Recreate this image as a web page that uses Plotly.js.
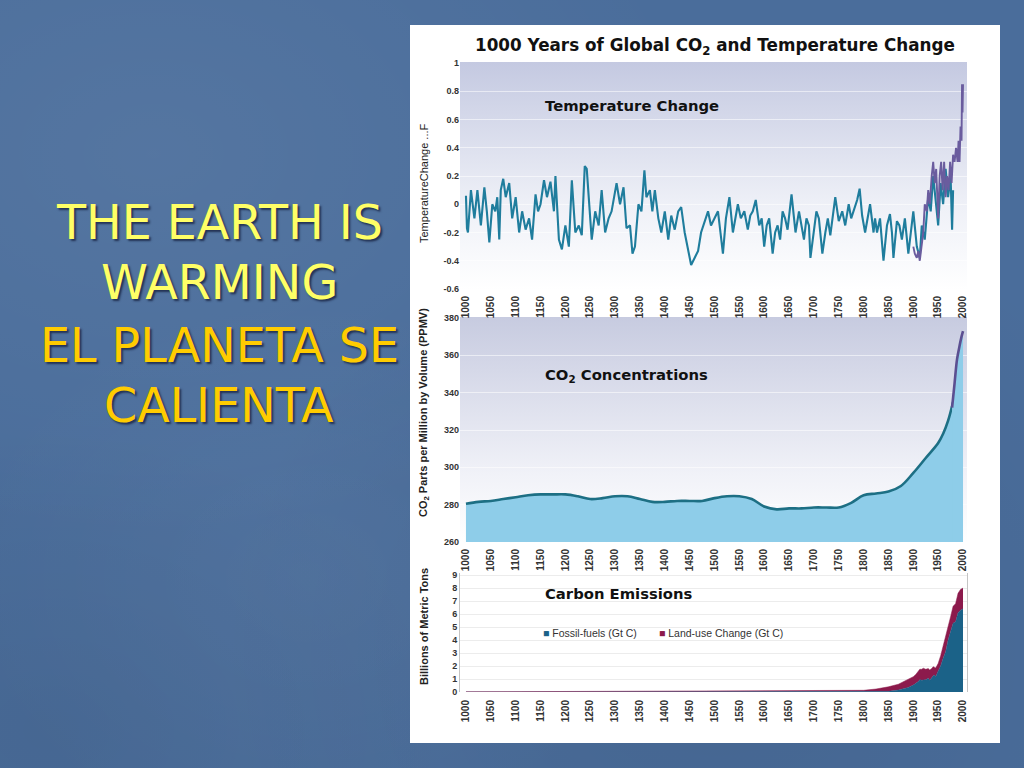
<!DOCTYPE html>
<html>
<head>
<meta charset="utf-8">
<script src="https://cdn.plot.ly/plotly-3.0.1.min.js"></script>
<style>
  html, body { margin: 0; padding: 0; }
  body {
    width: 1024px; height: 768px; overflow: hidden;
    background-color: #4a6d9b;
    background-image:
      radial-gradient(ellipse at 15% 20%, rgba(255,255,255,0.06), rgba(255,255,255,0) 45%),
      radial-gradient(ellipse at 30% 75%, rgba(255,255,255,0.04), rgba(255,255,255,0) 35%),
      radial-gradient(ellipse at 70% 85%, rgba(0,0,0,0.07), rgba(0,0,0,0) 50%),
      radial-gradient(ellipse at 5% 95%, rgba(0,0,0,0.06), rgba(0,0,0,0) 30%);
  }
  #chart { width: 1024px; height: 768px; }
</style>
</head>
<body>
<div id="chart"></div>
<script>
// ---------------- DATA ----------------
var tickYears = [1000,1050,1100,1150,1200,1250,1300,1350,1400,1450,1500,1550,1600,1650,1700,1750,1800,1850,1900,1950,2000];

// Temperature reconstruction (teal), deg F change
var tempYears = [1000,1002,1004,1010,1017,1023,1030,1037,1042,1047,1053,1059,1063,1067,1070,1075,1080,1087,1093,1100,
  1107,1113,1120,1127,1133,1140,1145,1150,1157,1163,1170,1177,1180,1187,1193,1200,1207,1213,1220,1227,
  1233,1239,1243,1250,1253,1260,1267,1273,1280,1287,1293,1303,1310,1317,1323,1330,1335,1340,1347,1353,
  1359,1363,1370,1375,1380,1387,1393,1400,1407,1413,1420,1427,1433,1440,1447,1453,1460,1467,1473,1480,
  1487,1493,1500,1507,1512,1517,1523,1530,1537,1542,1547,1553,1560,1567,1572,1577,1583,1590,1595,1600,
  1605,1610,1617,1622,1627,1632,1637,1642,1647,1655,1660,1663,1670,1675,1680,1685,1690,1693,1700,1705,
  1710,1717,1723,1728,1733,1738,1743,1750,1757,1763,1770,1775,1780,1787,1792,1797,1803,1808,1813,1820,
  1823,1827,1833,1840,1847,1853,1857,1860,1867,1872,1877,1883,1890,1895,1900,1907,1913,1917,1923,1930,
  1935,1940,1945,1950,1955,1960,1965,1970,1975,1978,1980];
var tempValues = [0.06,-0.17,-0.2,0.1,-0.1,0.1,-0.15,0.12,-0.05,-0.27,0.0,-0.05,0.05,-0.25,0.1,0.18,0.05,0.15,-0.1,0.05,
  -0.2,-0.05,-0.18,-0.1,-0.25,0.07,-0.05,0.0,0.17,0.05,0.16,-0.05,0.2,-0.25,-0.32,-0.15,-0.3,0.17,-0.2,-0.15,
  -0.22,0.27,0.25,-0.1,-0.25,-0.05,-0.15,0.1,-0.2,-0.1,-0.05,0.15,0.0,0.12,-0.17,-0.15,-0.35,-0.3,0.0,-0.05,
  0.24,0.05,0.1,-0.05,0.1,-0.1,-0.2,-0.05,-0.25,-0.08,-0.18,-0.05,-0.02,-0.2,-0.33,-0.43,-0.38,-0.33,-0.2,-0.12,
  -0.05,-0.15,-0.1,-0.05,-0.2,-0.35,-0.1,0.05,-0.2,-0.1,0.0,-0.1,-0.05,-0.18,-0.08,-0.05,0.03,-0.15,-0.1,-0.3,
  -0.15,-0.1,-0.35,-0.2,-0.15,-0.25,-0.05,-0.1,-0.18,0.07,-0.1,-0.2,-0.05,-0.15,-0.25,-0.1,-0.15,-0.38,-0.2,-0.05,
  -0.1,-0.35,-0.2,-0.1,-0.22,-0.08,0.05,-0.12,-0.05,-0.15,0.0,-0.1,-0.05,0.03,0.11,-0.08,-0.2,-0.1,0.0,-0.2,
  -0.1,-0.2,-0.1,-0.4,-0.15,-0.07,-0.2,-0.38,-0.12,-0.15,-0.25,-0.1,-0.35,-0.2,-0.05,-0.3,-0.38,-0.15,-0.25,0.05,
  -0.05,0.2,0.0,-0.15,0.15,0.0,0.25,0.05,0.2,-0.18,0.1];

// Instrumental record (purple)
var instYears = [1900,1903,1907,1910,1913,1917,1920,1923,1927,1930,1933,1937,1940,1943,1946,1950,1953,1956,1959,1962,
  1965,1968,1971,1974,1977,1980,1983,1986,1989,1991,1993,1995,1997,1998,1999,2000];
var instValues = [-0.3,-0.35,-0.38,-0.33,-0.4,-0.3,-0.2,0.0,-0.05,0.1,0.0,0.2,0.3,0.15,0.25,-0.1,0.2,0.3,0.1,0.3,
  0.05,0.2,0.1,0.3,0.15,0.35,0.3,0.4,0.3,0.45,0.3,0.55,0.45,0.85,0.65,0.85];

// CO2 concentrations, ppmv (ice core, teal) and direct measurements (purple)
var co2Years = [1000,1025,1050,1075,1100,1125,1150,1175,1200,1225,1250,1275,1300,1325,1350,1375,1400,1425,1450,1475,
  1500,1525,1550,1575,1600,1625,1650,1675,1700,1725,1750,1775,1800,1825,1850,1875,1900,1925,1950,1960,1970,1980];
var co2Values = [280.5,281.5,282,283,284,285,285.5,285.5,285.5,284.5,283,283.5,284.5,284.5,283,281.5,281.5,282,282,282,
  283.5,284.5,284.5,283,279,277.5,278,278,278.5,278.5,278.5,281,285,286,287,290,297,305,313,318,325,335];
var co2DirectYears = [1978,1983,1988,1993,1997,2000];
var co2DirectValues = [332,345,358,365,370,373];

// Carbon emissions, Gt C
var emisYears = [1000,1100,1200,1300,1400,1500,1600,1700,1750,1800,1825,1850,1870,1880,1890,1900,1905,1910,1913,1917,
  1920,1925,1930,1933,1937,1940,1943,1945,1948,1950,1955,1960,1965,1970,1975,1980,1985,1990,1995,2000];
var fossilValues = [0,0,0,0,0,0,0,0,0.003,0.01,0.03,0.05,0.15,0.25,0.35,0.53,0.65,0.8,0.95,0.9,
  0.93,0.95,1.05,0.9,1.1,1.25,1.3,1.15,1.45,1.6,2.0,2.6,3.1,4.0,4.6,5.3,5.4,6.1,6.3,6.4];
var landUseValues = [0.01,0.02,0.03,0.04,0.05,0.06,0.07,0.08,0.09,0.12,0.2,0.35,0.45,0.55,0.6,0.65,0.7,0.75,0.8,0.85,
  0.9,0.8,0.75,0.8,0.7,0.7,0.6,0.7,0.6,0.6,0.8,0.9,1.1,1.1,1.2,1.3,1.4,1.5,1.6,1.6];

var tempTicks = [-0.6,-0.4,-0.2,0,0.2,0.4,0.6,0.8,1];
var tempTickText = ['-0.6','-0.4','-0.2','0','0.2','0.4','0.6','0.8','1'];
var co2Ticks = [260,280,300,320,340,360,380];
var emisTicks = [0,1,2,3,4,5,6,7,8,9];

// ---------------- HELPERS ----------------
var W = 1024, H = 768;
function px(x) { return x / W; }
function py(y) { return 1 - y / H; }

function svgData(svg) { return 'data:image/svg+xml;charset=utf-8,' + encodeURIComponent(svg); }
var panelSvg = '<svg xmlns="http://www.w3.org/2000/svg" width="100" height="100" viewBox="0 0 100 100" preserveAspectRatio="none"><rect width="100" height="100" fill="#ffffff"/></svg>';
function gradSvg(top, mid, midStop) {
  return '<svg xmlns="http://www.w3.org/2000/svg" width="100" height="100" viewBox="0 0 100 100" preserveAspectRatio="none">' +
    '<defs><linearGradient id="g" x1="0" y1="0" x2="0" y2="1">' +
    '<stop offset="0" stop-color="' + top + '"/>' +
    '<stop offset="' + midStop + '" stop-color="' + mid + '"/>' +
    '<stop offset="1" stop-color="#ffffff"/></linearGradient></defs>' +
    '<rect width="100" height="100" fill="url(#g)"/></svg>';
}

var tickFont = {family: 'Liberation Sans', size: 9, color: '#333', weight: 'bold'};
var xTickFont = {family: 'Liberation Sans Narrow, Liberation Sans', size: 10, color: '#333', weight: 'bold'};
var xDom = [px(460), px(967)];
var xRange = [988, 2008];

function xAxis(anchor, standoff) {
  return {
    domain: xDom, range: xRange, anchor: anchor,
    tickmode: 'array', tickvals: tickYears, ticktext: tickYears.map(String),
    tickangle: -90, tickfont: xTickFont,
    ticks: 'outside', ticklen: standoff, tickcolor: 'rgba(0,0,0,0)',
    showgrid: false, zeroline: false, showline: false, fixedrange: true
  };
}

// ---------------- TRACES ----------------
var traces = [
  {x: tempYears, y: tempValues, type: 'scatter', mode: 'lines', xaxis: 'x', yaxis: 'y',
   line: {color: '#1f7d9d', width: 2.1}, hoverinfo: 'skip'},
  {x: instYears, y: instValues, type: 'scatter', mode: 'lines', xaxis: 'x', yaxis: 'y',
   line: {color: '#6a5c9e', width: 1.9}, hoverinfo: 'skip'},
  {x: co2Years, y: co2Values, type: 'scatter', mode: 'lines', xaxis: 'x2', yaxis: 'y2',
   fill: 'tozeroy', fillcolor: '#8ecde9', line: {color: '#1d6f84', width: 2.6, shape: 'spline'}, hoverinfo: 'skip'},
  {x: co2DirectYears, y: co2DirectValues, type: 'scatter', mode: 'lines', xaxis: 'x2', yaxis: 'y2',
   fill: 'tozeroy', fillcolor: '#8ecde9', line: {color: '#5b4f91', width: 2.6, shape: 'spline'}, hoverinfo: 'skip'},
  {x: emisYears, y: fossilValues, type: 'scatter', mode: 'lines', xaxis: 'x3', yaxis: 'y3',
   stackgroup: 'em', fillcolor: '#1b6288', line: {color: '#1b6288', width: 0.5}, hoverinfo: 'skip'},
  {x: emisYears, y: landUseValues, type: 'scatter', mode: 'lines', xaxis: 'x3', yaxis: 'y3',
   stackgroup: 'em', fillcolor: '#8c1a4c', line: {color: '#8c1a4c', width: 0.5}, hoverinfo: 'skip'}
];

// ---------------- LAYOUT ----------------
var leftTitleFont = function (c) {
  return {family: 'DejaVu Sans', size: 47.5, color: c, shadow: '2px 2px 2px rgba(20,30,60,0.75)'};
};
var boldTitle = {family: 'DejaVu Sans', size: 14.8, color: '#111', weight: 'bold'};
var ann = [
  {text: 'THE EARTH IS', x: px(219), y: py(222), font: leftTitleFont('#ffff66')},
  {text: 'WARMING', x: px(219), y: py(283), font: leftTitleFont('#ffff66')},
  {text: 'EL PLANETA SE', x: px(219), y: py(345), font: leftTitleFont('#ffcc00')},
  {text: 'CALIENTA', x: px(219), y: py(405), font: leftTitleFont('#ffcc00')},
  {text: '1000 Years of Global CO<sub>2</sub> and Temperature Change', x: px(715), y: py(46),
   font: {family: 'DejaVu Sans', size: 16.8, color: '#111', weight: 'bold'}},
  {text: 'Temperature Change', x: px(543), y: py(105), xanchor: 'left', font: boldTitle},
  {text: 'CO<sub>2</sub> Concentrations', x: px(543), y: py(375), xanchor: 'left', font: boldTitle},
  {text: 'Carbon Emissions', x: px(543), y: py(593), xanchor: 'left', font: boldTitle},
  {text: '<span style="color:#1b6288">■</span> Fossil-fuels (Gt C)', x: px(541), y: py(633), xanchor: 'left',
   font: {family: 'Liberation Sans', size: 10.5, color: '#333'}},
  {text: '<span style="color:#8c1a4c">■</span> Land-use Change (Gt C)', x: px(657), y: py(633), xanchor: 'left',
   font: {family: 'Liberation Sans', size: 10.5, color: '#333'}},
  {text: 'TemperatureChange ...F', x: px(424), y: py(183), textangle: -90,
   font: {family: 'Liberation Sans Narrow, Liberation Sans', size: 11, color: '#222'}},
  {text: 'CO<sub>2</sub> Parts per Million by Volume (PPMV)', x: px(424), y: py(413), textangle: -90,
   font: {family: 'Liberation Sans Narrow, Liberation Sans', size: 11, color: '#222', weight: 'bold'}},
  {text: 'Billions of Metric Tons', x: px(424), y: py(627), textangle: -90,
   font: {family: 'Liberation Sans Narrow, Liberation Sans', size: 11, color: '#222', weight: 'bold'}}
].map(function (a) {
  return Object.assign({xref: 'paper', yref: 'paper', showarrow: false, xanchor: 'center', yanchor: 'middle'}, a);
});

var layout = {
  width: W, height: H,
  margin: {l: 0, r: 0, t: 0, b: 0, pad: 0},
  paper_bgcolor: 'rgba(0,0,0,0)',
  plot_bgcolor: 'rgba(0,0,0,0)',
  showlegend: false,
  xaxis: xAxis('y', 2),
  xaxis2: xAxis('y2', 2),
  xaxis3: xAxis('y3', 3),
  yaxis: {domain: [py(289), py(63)], range: [-0.6, 1], anchor: 'x',
    tickmode: 'array', tickvals: tempTicks, ticktext: tempTickText, tickfont: tickFont,
    ticks: '', showgrid: true, gridcolor: 'rgba(255,255,255,0.55)', gridwidth: 1,
    zeroline: false, showline: false, fixedrange: true},
  yaxis2: {domain: [py(542), py(318)], range: [260, 380], anchor: 'x2',
    tickmode: 'array', tickvals: co2Ticks, tickfont: tickFont,
    ticks: '', showgrid: true, gridcolor: 'rgba(255,255,255,0.55)', gridwidth: 1,
    zeroline: false, showline: false, fixedrange: true},
  yaxis3: {domain: [py(692), py(572.5)], range: [0, 9.2], anchor: 'x3',
    tickmode: 'array', tickvals: emisTicks, tickfont: tickFont,
    ticks: '', showgrid: true, gridcolor: '#ececec', gridwidth: 1,
    zeroline: false, showline: true, mirror: true, linecolor: '#c4c4c4', linewidth: 1, fixedrange: true},
  images: [
    {source: svgData(panelSvg), xref: 'paper', yref: 'paper', x: px(410), y: py(25),
     sizex: 590 / W, sizey: 718 / H, xanchor: 'left', yanchor: 'top', sizing: 'stretch', layer: 'below'},
    {source: svgData(gradSvg('#c4c9e1', '#eef0f7', 0.62)), xref: 'paper', yref: 'paper', x: px(460), y: py(62),
     sizex: 507 / W, sizey: 228 / H, xanchor: 'left', yanchor: 'top', sizing: 'stretch', layer: 'below'},
    {source: svgData(gradSvg('#c7cbe0', '#f1f2f8', 0.7)), xref: 'paper', yref: 'paper', x: px(460), y: py(317),
     sizex: 507 / W, sizey: 226 / H, xanchor: 'left', yanchor: 'top', sizing: 'stretch', layer: 'below'}
  ],
  annotations: ann
};

Plotly.newPlot('chart', traces, layout, {staticPlot: true, displayModeBar: false});
</script>
</body>
</html>
